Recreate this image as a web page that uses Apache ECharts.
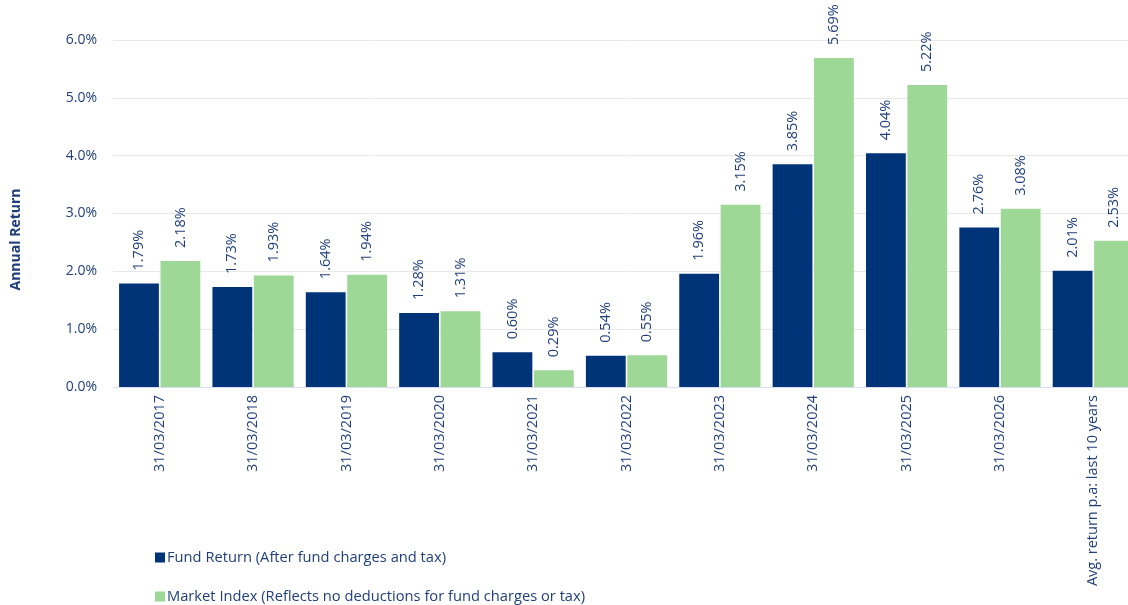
<!DOCTYPE html>
<html>
<head>
<meta charset="utf-8">
<script src="https://cdn.jsdelivr.net/npm/echarts@6/dist/echarts.min.js"></script>
<style>
  html, body { margin: 0; padding: 0; background: #fff; overflow: hidden; }
  /* the reference plot runs slightly past the right edge of the window */
  #chart { width: 1140px; height: 605px; }
</style>
</head>
<body>
<div id="chart"></div>
<script>
var categories = ['31/03/2017', '31/03/2018', '31/03/2019', '31/03/2020', '31/03/2021',
  '31/03/2022', '31/03/2023', '31/03/2024', '31/03/2025', '31/03/2026',
  'Avg. return p.a: last 10 years'];
var fundReturn = [1.79, 1.73, 1.64, 1.28, 0.60, 0.54, 1.96, 3.85, 4.04, 2.76, 2.01];
var marketIndex = [2.18, 1.93, 1.94, 1.31, 0.29, 0.55, 3.15, 5.69, 5.22, 3.08, 2.53];
var seriesNames = ['Fund Return (After fund charges and tax)',
  'Market Index (Reflects no deductions for fund charges or tax)'];

var textColor = '#203f7a';
var font = 'Open Sans';

var labelOpt = {
  show: true,
  position: 'top',
  rotate: 90,
  align: 'left',
  verticalAlign: 'middle',
  distance: 13,
  color: textColor,
  fontFamily: font,
  fontSize: 14.5,
  formatter: function (p) { return p.value.toFixed(2) + '%'; }
};

function legendAt(name, top) {
  return {
    orient: 'vertical',
    left: 150,
    top: top,
    itemWidth: 10,
    itemHeight: 10,
    icon: 'rect',
    textStyle: { color: textColor, fontFamily: font, fontSize: 14.7, padding: [0, 0, 0, -3] },
    data: [name]
  };
}

var myChart = echarts.init(document.getElementById('chart'));
var option = {
  animation: false,
  textStyle: { fontFamily: font },
  grid: { left: 113, right: 0, top: 40, bottom: 218 },
  legend: [legendAt(seriesNames[0], 545), legendAt(seriesNames[1], 584)],
  xAxis: {
    type: 'category',
    data: categories,
    axisLine: { lineStyle: { color: '#d6def0', width: 1 } },
    axisTick: { show: false },
    axisLabel: {
      rotate: 90,
      margin: 8,
      color: textColor,
      fontFamily: font,
      fontSize: 14.5,
      interval: 0
    }
  },
  yAxis: {
    type: 'value',
    min: 0,
    max: 6,
    interval: 1,
    name: 'Annual Return',
    nameLocation: 'middle',
    nameGap: 90,
    nameRotate: 90,
    nameTextStyle: {
      color: textColor, fontFamily: font, fontSize: 14, fontWeight: 'bold',
      padding: [0, 52, 0, 0]
    },
    axisLine: { show: false },
    axisTick: { show: false },
    splitLine: { lineStyle: { color: '#e8e8e8' } },
    axisLabel: {
      margin: 16,
      color: textColor,
      fontFamily: font,
      fontSize: 14,
      formatter: function (v) { return v.toFixed(1) + '%'; }
    }
  },
  series: [
    {
      name: seriesNames[0],
      type: 'bar',
      data: fundReturn,
      barGap: '4%',
      barCategoryGap: '13%',
      itemStyle: { color: '#003478' },
      label: labelOpt
    },
    {
      name: seriesNames[1],
      type: 'bar',
      data: marketIndex,
      itemStyle: { color: '#9dd896' },
      label: labelOpt
    }
  ]
};
myChart.setOption(option);
</script>
</body>
</html>
